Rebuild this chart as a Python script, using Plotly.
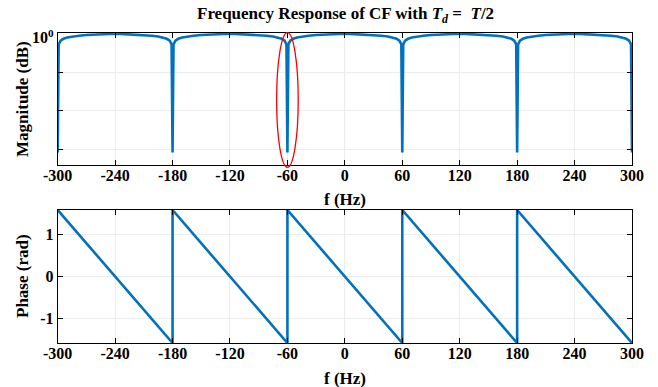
import plotly.graph_objects as go

# ---------------- data ----------------
# notch frequencies (Hz) of the comb filter magnitude
notch_freqs = [-300, -180, -60, 60, 180, 300]
# magnitude profile of one half-lobe: offset from the notch (Hz) -> magnitude
lobe_offsets = [0, 1, 3, 6, 10, 15, 22, 30, 40, 50, 60]
lobe_mag = [0.00082, 0.53, 0.66, 0.74, 0.80, 0.85, 0.89, 0.925, 0.955, 0.978, 1.0]

# phase: sawtooth corner points (Hz, rad)
phase_f = [-300, -180, -180, -60, -60, 60, 60, 180, 180, 300]
phase_v = [1.5708, -1.5708, 1.5708, -1.5708, 1.5708, -1.5708, 1.5708, -1.5708, 1.5708, -1.5708]

x_ticks = [-300, -240, -180, -120, -60, 0, 60, 120, 180, 240, 300]
x_ticktext = ["-300", "-240", "-180", "-120", "-60", "0", "60", "120", "180", "240", "300"]
mag_ticks = [1]
mag_ticktext = ["10<sup>0</sup>"]
mag_minor_ticks = [0.1, 0.01, 0.001]
ph_ticks = [1, 0, -1]
ph_ticktext = ["1", "0", "-1"]

# build magnitude series from the read profile
mag_f, mag_v = [], []
for a, b in zip(notch_freqs[:-1], notch_freqs[1:]):
    for o, m in zip(lobe_offsets, lobe_mag):
        mag_f.append(a + o); mag_v.append(m)
    for o, m in zip(reversed(lobe_offsets[:-1]), reversed(lobe_mag[:-1])):
        mag_f.append(b - o); mag_v.append(m)

W, H = 658, 387
def px(x): return x / W
def py(y): return 1 - y / H

BLUE = "#0072BD"
FONT = "Liberation Serif"
FS = 17
TFS = 16

fig = go.Figure()
fig.add_trace(go.Scatter(x=mag_f, y=mag_v, mode="lines",
                         line=dict(color=BLUE, width=2.6), xaxis="x", yaxis="y",
                         showlegend=False, hoverinfo="skip"))
fig.add_trace(go.Scatter(x=phase_f, y=phase_v, mode="lines",
                         line=dict(color=BLUE, width=2.6), xaxis="x2", yaxis="y2",
                         showlegend=False, hoverinfo="skip"))

axis_common = dict(showline=True, linecolor="black", linewidth=1, mirror="ticks",
                   ticks="inside", ticklen=5, tickcolor="black", automargin=False,
                   showgrid=True, gridcolor="#ececec", gridwidth=1, zeroline=False,
                   tickfont=dict(family=FONT, size=TFS, color="black", weight="bold"))

xdom = [px(57.7), px(632)]
fig.update_layout(
    width=W, height=H, margin=dict(l=0, r=0, t=0, b=0),
    paper_bgcolor="white", plot_bgcolor="white",
    font=dict(family=FONT, color="black"),
    xaxis=dict(domain=xdom, anchor="y", range=[-300, 300], tickvals=x_ticks,
               ticktext=x_ticktext, ticklabelstandoff=-4, **axis_common),
    yaxis=dict(domain=[py(165), py(33)], anchor="x", type="log", range=[-3.41, 0.02],
               tickvals=mag_ticks, ticktext=mag_ticktext, ticklabelshift=4,
               minor=dict(tickvals=mag_minor_ticks, ticks="inside", ticklen=5,
                          tickcolor="black", showgrid=True, gridcolor="#ececec"),
               **axis_common),
    xaxis2=dict(domain=xdom, anchor="y2", range=[-300, 300], tickvals=x_ticks,
                ticktext=x_ticktext, ticklabelstandoff=-4, **axis_common),
    yaxis2=dict(domain=[py(343), py(210)], anchor="x2", range=[-1.5708, 1.5708],
                tickvals=ph_ticks, ticktext=ph_ticktext, **axis_common),
)

def ann(text, x, y, size=FS, angle=0):
    fig.add_annotation(text=text, x=px(x), y=py(y), xref="paper", yref="paper",
                       showarrow=False, textangle=angle, xanchor="center", yanchor="middle",
                       font=dict(family=FONT, size=size, color="black", weight="bold"))

ann("<b>Frequency Response of CF with <i>T</i><sub><i>d</i></sub> =&nbsp;&nbsp;<i>T</i>/2</b>", 345, 15)
ann("<b>Magnitude (dB)</b>", 22, 99, angle=-90)
ann("<b>f (Hz)</b>", 345, 199)
ann("<b>Phase (rad)</b>", 22, 276, angle=-90)
ann("<b>f (Hz)</b>", 345, 378)

# red ellipse highlighting the -60 Hz notch
fig.add_shape(type="circle", xref="x", yref="paper",
              x0=-71.3, x1=-48.7, y0=py(167.3), y1=py(32.7),
              line=dict(color="red", width=1.3), fillcolor="rgba(0,0,0,0)")

fig.write_html("out.html")
